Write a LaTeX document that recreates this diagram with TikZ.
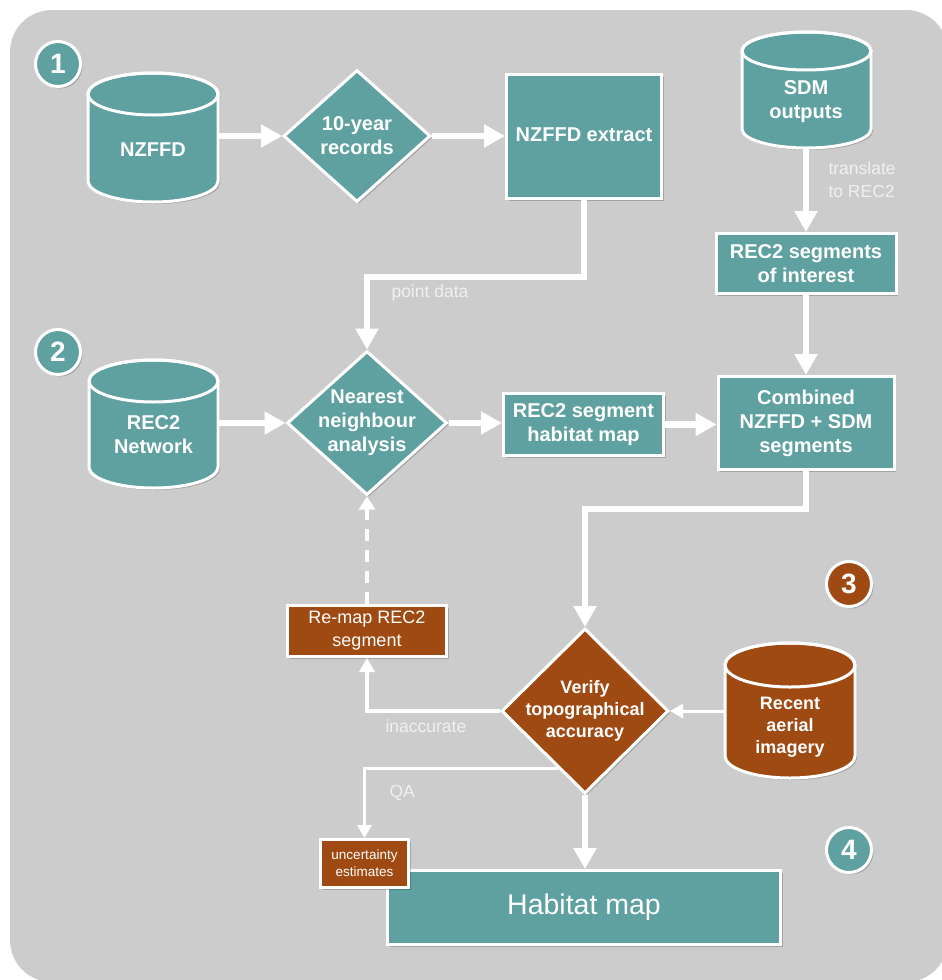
\documentclass[tikz,border=0pt]{standalone}
\usepackage{fontspec}
\setmainfont{Liberation Sans}
\usetikzlibrary{arrows.meta,shapes.geometric,shadows,calc}
\definecolor{tealbox}{HTML}{5FA0A0}
\definecolor{rust}{HTML}{A04A13}
\definecolor{panel}{HTML}{CCCCCC}
\definecolor{notecol}{HTML}{F0F0F0}

% database drum: left, top, right, bottom, half-height of the end ellipse, fill colour
\newcommand{\drum}[6]{%
  \pgfmathsetmacro\drumrx{(#3-#1)/2}%
  \pgfmathsetmacro\drumcx{(#1+#3)/2}%
  \pgfmathsetmacro\drumtop{#2+#5}%
  \pgfmathsetmacro\drumbot{#4-#5}%
  \fill[black,opacity=0.2,xshift=2pt,yshift=-2pt]
    (#1,\drumtop) -- (#1,\drumbot)
    arc[start angle=180,end angle=360,x radius=\drumrx pt,y radius=#5 pt]
    -- (#3,\drumtop)
    arc[start angle=0,end angle=180,x radius=\drumrx pt,y radius=#5 pt] -- cycle;
  \path[fill=#6,draw=white,line width=3pt]
    (#1,\drumtop) -- (#1,\drumbot)
    arc[start angle=180,end angle=360,x radius=\drumrx pt,y radius=#5 pt]
    -- (#3,\drumtop)
    arc[start angle=0,end angle=180,x radius=\drumrx pt,y radius=#5 pt] -- cycle;
  \draw[white,line width=3pt] (\drumcx,\drumtop) ellipse[x radius=\drumrx pt,y radius=#5 pt];
}

\begin{document}
\begin{tikzpicture}[x=1pt,y=-1pt,
  shad/.style={drop shadow={shadow xshift=2pt,shadow yshift=-2pt,opacity=0.2,fill=black}},
  box/.style={rectangle,draw=white,line width=3pt,inner sep=0pt,shad},
  dia/.style={diamond,draw=white,line width=3pt,inner sep=0pt,shad},
  hold/.style={rectangle,inner sep=0pt,outer sep=0pt},
  txt/.style={text=white,align=center,font=\fontsize{20}{24}\selectfont\bfseries},
  txts/.style={text=white,align=center,font=\fontsize{18}{22}\selectfont\bfseries},
  notelbl/.style={text=notecol,align=left,anchor=west,font=\fontsize{17.5}{23}\selectfont},
  num/.style={circle,draw=white,line width=3pt,minimum size=45pt,inner sep=0pt,
    text=white,font=\fontsize{28}{28}\selectfont\bfseries,shad},
  flow/.style={draw=white,line width=6.5pt,-{Triangle[width=22pt,length=21pt]}},
  thinflow/.style={draw=white,line width=4pt,-{Triangle[width=15pt,length=14pt]}},
  hairflow/.style={draw=white,line width=3pt,-{Triangle[width=14pt,length=13pt]}},
  dashflow/.style={draw=white,line width=4pt,dash pattern=on 12pt off 9pt,
    -{Triangle[width=16pt,length=13pt]}},
]
\useasboundingbox (0,0) rectangle (942,980);
\fill[white] (0,0) rectangle (942,980);
\fill[panel,rounded corners=42pt] (10,10) rectangle (948,982);

% step markers
\node[num,fill=tealbox] (n1) at (58,64) {1};
\node[num,fill=tealbox] (n2) at (58,352) {2};
\node[num,fill=rust] (n3) at (849,584) {3};
\node[num,fill=tealbox] (n4) at (849,850) {4};

% data sources
\drum{88}{73}{218}{202}{21}{tealbox}
\node[hold,minimum width=130pt,minimum height=129pt] (nzffd) at (153,137.5) {};
\node[txt] (nzffdt) at (153,150) {NZFFD};

\drum{742}{32}{871}{148}{19}{tealbox}
\node[hold,minimum width=129pt,minimum height=116pt] (sdm) at (806,90) {};
\node[txt] (sdmt) at (806,101.5) {SDM\\outputs};

\drum{89}{360}{218}{488}{21}{tealbox}
\node[hold,minimum width=129pt,minimum height=128pt] (rec) at (153.5,424) {};
\node[txt] (rect) at (153.5,435) {REC2\\Network};

\drum{725}{643}{855}{778}{22}{rust}
\node[hold,minimum width=130pt,minimum height=135pt] (aer) at (790,710.5) {};
\node[txts] (aert) at (790,727) {Recent\\aerial\\imagery};

% processing steps
\node[dia,fill=tealbox,minimum width=147pt,minimum height=132pt] (rec10) at (357,136) {};
\node[txt] (rec10t) at (rec10) {10-year\\records};

\node[box,fill=tealbox,minimum width=155pt,minimum height=124pt] (extract) at (584,136.5) {};
\node[txt] (extractt) at (584,135) {NZFFD extract};

\node[box,fill=tealbox,minimum width=180pt,minimum height=60pt] (segint) at (806,263.5) {};
\node[txt] (seginttxt) at (segint) {REC2 segments\\of interest};

\node[dia,fill=tealbox,minimum width=160pt,minimum height=144pt] (nn) at (367,423) {};
\node[txt] (nnt) at (nn) {Nearest\\neighbour\\analysis};

\node[box,fill=tealbox,minimum width=160pt,minimum height=62pt] (hmap) at (583.5,424.5) {};
\node[txt] (hmapt) at (hmap) {REC2 segment\\habitat map};

\node[box,fill=tealbox,minimum width=176pt,minimum height=93pt] (comb) at (806,423) {};
\node[txt] (combt) at (comb) {Combined\\NZFFD + SDM\\segments};

\node[dia,fill=rust,minimum width=167pt,minimum height=165pt] (ver) at (585,711) {};
\node[txts] (vert) at (ver) {Verify\\topographical\\accuracy};

\node[box,fill=rust,minimum width=159pt,minimum height=51pt] (remap) at (367,631) {};
\node[text=white,align=center,font=\fontsize{18}{23}\selectfont] (remapt) at (remap) {Re-map REC2\\segment};

\node[box,fill=tealbox,minimum width=393pt,minimum height=74pt] (hab) at (584,907.5) {};
\node[text=white,font=\fontsize{28.5}{30}\selectfont] (habt) at (hab) {Habitat map};

\node[box,fill=rust,minimum width=88pt,minimum height=48pt] (unc) at (364.5,863.5) {};
\node[text=white,align=center,font=\fontsize{13.5}{17}\selectfont] (unct) at (unc) {uncertainty\\estimates};

% connectors
\draw[flow] (nzffd.east |- rec10.west) -- (rec10.west);
\draw[flow] (rec10.east) -- (extract.west |- rec10.east);
\draw[flow] (extract.south) -- ++(0,77) -| (nn.north);
\draw[flow] (sdm.south) -- (segint.north);
\draw[flow] (segint.south) -- (comb.north);
\draw[flow] (rec.east |- nn.west) -- (nn.west);
\draw[flow] (nn.east) -- (hmap.west |- nn.east);
\draw[flow] (hmap.east) -- (comb.west |- hmap.east);
\draw[flow] (comb.south) -- ++(0,38) -| (ver.north);
\draw[flow] (ver.south) -- (ver.south |- hab.north);
\draw[thinflow] (ver.west) -| (remap.south);
\draw[dashflow] (remap.north) -- (nn.south);
\draw[hairflow] (aer.west |- ver.east) -- (ver.east);
\coordinate (qaout) at ($(ver.west)!0.68!(ver.south)$);
\draw[hairflow] (qaout) -| (unc.north);

% connector labels
\node[notelbl] (ltr) at (825,179.5) {translate\\to REC2};
\node[notelbl] (lpd) at (388,293) {point data};
\node[notelbl] (lin) at (382,726) {inaccurate};
\node[notelbl] (lqa) at (386,793) {QA};
\end{tikzpicture}
\end{document}
